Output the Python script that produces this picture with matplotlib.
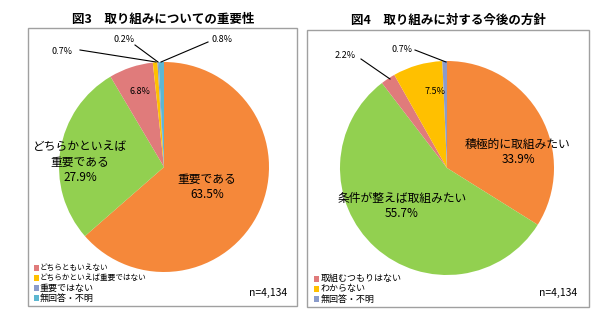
import matplotlib
matplotlib.use("Agg")
import matplotlib.pyplot as plt
from matplotlib.patches import Rectangle

plt.rcParams['font.family'] = ['Noto Sans CJK JP', 'DejaVu Sans']

# ---- data ----
cats3 = ["重要である", "どちらかといえば\n重要である", "どちらともいえない",
         "どちらかといえば重要ではない", "重要ではない", "無回答・不明"]
vals3 = [63.5, 27.9, 6.8, 0.7, 0.2, 0.8]
cats4 = ["積極的に取組みたい", "条件が整えば取組みたい", "取組むつもりはない",
         "わからない", "無回答・不明"]
vals4 = [33.9, 55.7, 2.2, 7.5, 0.7]
n_text = "n=4,134"
title3 = "図3　取り組みについての重要性"
title4 = "図4　取り組みに対する今後の方針"

ORANGE = "#F5883A"
GREEN = "#92D050"
PINK = "#E07B7B"
YELLOW = "#FFC000"
PURPLE = "#8A9BCB"
LBLUE = "#5DB7D1"
colors3 = [ORANGE, GREEN, PINK, YELLOW, PURPLE, LBLUE]
colors4 = [ORANGE, GREEN, PINK, YELLOW, PURPLE]

W, H = 600, 333
fig = plt.figure(figsize=(6, 3.33), dpi=100)
fig.patch.set_facecolor("white")

def px(x, y):
    return x / W, 1 - y / H

def add_box(x0, y0, x1, y1):
    r = Rectangle((x0 / W, 1 - y1 / H), (x1 - x0) / W, (y1 - y0) / H,
                  transform=fig.transFigure, fill=False, ec="#A0A0A0", lw=1.0)
    fig.add_artist(r)

def pie_axes(cx, cy, R, vals, cols):
    ax = fig.add_axes([(cx - R) / W, 1 - (cy + R) / H, 2 * R / W, 2 * R / H])
    ax.pie(vals, colors=cols, startangle=90, counterclock=False, radius=1,
           wedgeprops=dict(linewidth=0))
    ax.set_xlim(-1, 1)
    ax.set_ylim(-1, 1)
    ax.set_aspect("auto")
    ax.axis("off")
    return ax

def to_data(cx, cy, R, x, y):
    return (x - cx) / R, -(y - cy) / R

# ---- boxes ----
add_box(28, 28, 297, 306)
add_box(307, 30, 589, 307)

# ---- titles ----
fig.text(*px(163, 20), title3, ha="center", va="center", fontsize=9, fontweight="bold")
fig.text(*px(448, 20), title4, ha="center", va="center", fontsize=9, fontweight="bold")

# ---- left pie ----
cx1, cy1, R1 = 164, 167, 105
ax1 = pie_axes(cx1, cy1, R1, vals3, colors3)

def t1(x, y, s, fs=8.5, **kw):
    ax1.text(*to_data(cx1, cy1, R1, x, y), s, ha="center", va="center", fontsize=fs,
             clip_on=False, **kw)

t1(207, 187, cats3[0] + "\n" + f"{vals3[0]}%", linespacing=1.25)
t1(80, 162, cats3[1] + "\n" + f"{vals3[1]}%", linespacing=1.25)
t1(140, 91, f"{vals3[2]}%", fs=6.5)

def ann1(txt_xy, tip_xy, line_start, s):
    t1(*txt_xy, s, fs=6.5)
    ax1.plot(*zip(to_data(cx1, cy1, R1, *line_start), to_data(cx1, cy1, R1, *tip_xy)),
             color="black", lw=0.8, clip_on=False)

ann1((62, 51), (156, 62), (80, 50), f"{vals3[3]}%")
ann1((124, 39), (158, 62), (135, 45), f"{vals3[4]}%")
ann1((222, 39), (161, 62), (208, 42), f"{vals3[5]}%")

# legend left
leg3 = [(cats3[2], PINK, 268, 5.5), (cats3[3], YELLOW, 278, 5.5),
        (cats3[4], PURPLE, 288, 6.5), (cats3[5], LBLUE, 298, 6.5)]
for s, c, y, fs in leg3:
    fig.add_artist(Rectangle((34 / W, 1 - (y + 3) / H), 5 / W, 6 / H,
                             transform=fig.transFigure, color=c, lw=0))
    fig.text(*px(40, y), s, ha="left", va="center", fontsize=fs)
fig.text(*px(287, 293), n_text, ha="right", va="center", fontsize=7.5)

# ---- right pie ----
cx2, cy2, R2 = 447, 168, 107
ax2 = pie_axes(cx2, cy2, R2, vals4, colors4)

def t2(x, y, s, fs=8.5, **kw):
    ax2.text(*to_data(cx2, cy2, R2, x, y), s, ha="center", va="center", fontsize=fs,
             clip_on=False, **kw)

t2(518, 152, cats4[0] + "\n" + f"{vals4[0]}%", linespacing=1.25)
t2(402, 206, cats4[1] + "\n" + f"{vals4[1]}%", linespacing=1.25)
t2(435, 91, f"{vals4[3]}%", fs=6.5)

def ann2(txt_xy, tip_xy, line_start, s):
    t2(*txt_xy, s, fs=6.5)
    ax2.plot(*zip(to_data(cx2, cy2, R2, *line_start), to_data(cx2, cy2, R2, *tip_xy)),
             color="black", lw=0.8, clip_on=False)

ann2((402, 49), (446, 62), (415, 50), f"{vals4[4]}%")
ann2((345, 55), (390, 79), (361, 59), f"{vals4[2]}%")

leg4 = [(cats4[2], PINK, 279, 6.5), (cats4[3], YELLOW, 289, 6.5), (cats4[4], PURPLE, 299, 6.5)]
for s, c, y, fs in leg4:
    fig.add_artist(Rectangle((314 / W, 1 - (y + 3) / H), 5 / W, 6 / H,
                             transform=fig.transFigure, color=c, lw=0))
    fig.text(*px(321, y), s, ha="left", va="center", fontsize=fs)
fig.text(*px(577, 293), n_text, ha="right", va="center", fontsize=7.5)

fig.savefig("out.png", dpi=100, facecolor="white")
